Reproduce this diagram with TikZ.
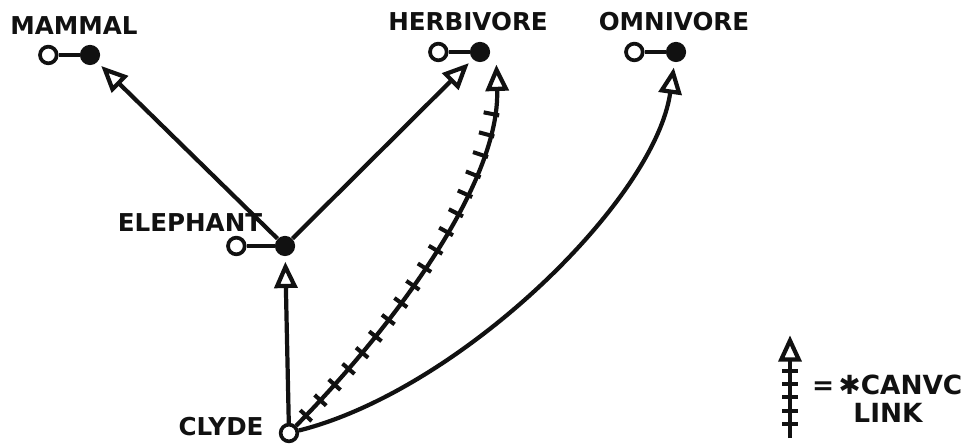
\documentclass[tikz,border=0pt]{standalone}
\usepackage{fontspec}
\setmainfont{DejaVu Sans}
\newfontfamily\symbolfont{DejaVu Sans}
\usetikzlibrary{arrows.meta,positioning,decorations.markings}
\definecolor{inkblack}{HTML}{111111}
\tikzset{
  concept/.style={font=\bfseries\fontsize{14}{16}\selectfont, text=inkblack},
  legendtext/.style={font=\bfseries\fontsize{15}{17}\selectfont, text=inkblack, align=center},
  dot/.style={circle, fill=inkblack, inner sep=0pt, minimum size=11.5pt},
  hole/.style={circle, draw=inkblack, fill=white, line width=2.1pt, inner sep=0pt, minimum size=9.5pt},
  stem/.style={line width=2.2pt, draw=inkblack},
  isa/.style={-{Triangle[open,length=15pt,width=13pt]}, line width=2.4pt, draw=inkblack, shorten >=3pt},
  canvc/.style={isa, postaction={decorate},
    decoration={markings, mark=between positions 8pt and -21pt step #1 with
      {\draw[-, shorten >=0pt, line width=2.3pt, inkblack] (0,-4.5pt) -- (0,4.5pt);}}},
  canvc/.default=12pt
}

\begin{document}
\begin{tikzpicture}[x=0.02cm, y=-0.02cm]
\useasboundingbox (0,0) rectangle (966,445);
% concepts
\node[dot] (mammal) at (90,55) {};
\node[dot] (herbivore) at (480,52) {};
\node[dot] (omnivore) at (676,52) {};
\node[dot] (elephant) at (285,246) {};
\node[hole] (clyde) at (289,433) {};
\node[hole, left=0.42cm of mammal] (mammalhole) {};
\node[hole, left=0.42cm of herbivore] (herbivorehole) {};
\node[hole, left=0.42cm of omnivore] (omnivorehole) {};
\node[hole, left=0.56cm of elephant] (elephanthole) {};
\node[concept] (mammallabel) at (74,26) {MAMMAL};
\node[concept] (herbivorelabel) at (468,22) {HERBIVORE};
\node[concept] (omnivorelabel) at (674,22) {OMNIVORE};
\node[concept] (elephantlabel) at (190,223) {ELEPHANT};
\node[concept] (clydelabel) at (221,427) {CLYDE};
\draw[stem] (mammalhole) -- (mammal);
\draw[stem] (herbivorehole) -- (herbivore);
\draw[stem] (omnivorehole) -- (omnivore);
\draw[stem] (elephanthole) -- (elephant);
% links
\draw[isa] (elephant) -- (mammal);
\draw[isa] (elephant) -- (herbivore);
\draw[isa] (clyde) -- (elephant);
\draw[isa] (clyde) .. controls (460,390) and (655,200) .. (omnivore);
\draw[canvc] (clyde) .. controls (400,320) and (500,180) .. ([xshift=5pt]herbivore.south east);
% legend
\coordinate (legfoot) at (790,438);
\coordinate (leghead) at (790,330);
\draw[canvc=7.6pt] (legfoot) -- (leghead);
\node[legendtext, anchor=west] (canvcdef) at (806,385) {=\,{\symbolfont\mdseries ✱}CANVC};
\node[legendtext] (linkdef) at (888,413) {LINK};
\end{tikzpicture}
\end{document}
